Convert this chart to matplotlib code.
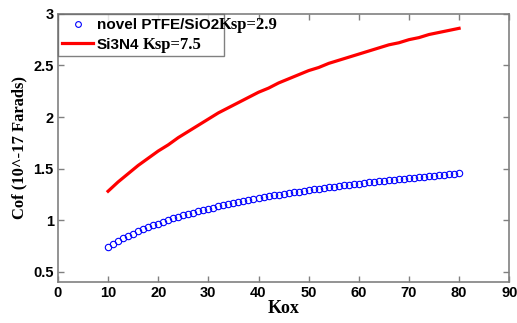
import matplotlib
matplotlib.use("Agg")
import matplotlib.pyplot as plt

# Kox values (blue markers every 1, red line every 2)
kox_ptfe = list(range(10, 81))
cof_ptfe = [0.740, 0.770, 0.797, 0.823, 0.847, 0.870, 0.891, 0.911, 0.930, 0.949,
            0.967, 0.984, 1.000, 1.016, 1.031, 1.045, 1.059, 1.072, 1.085, 1.097,
            1.110, 1.122, 1.133, 1.144, 1.155, 1.165, 1.175, 1.185, 1.195, 1.204,
            1.213, 1.222, 1.231, 1.239, 1.247, 1.255, 1.263, 1.270, 1.277, 1.284,
            1.291, 1.298, 1.305, 1.311, 1.318, 1.324, 1.330, 1.336, 1.342, 1.348,
            1.354, 1.360, 1.365, 1.371, 1.376, 1.382, 1.387, 1.392, 1.397, 1.402,
            1.407, 1.412, 1.417, 1.422, 1.427, 1.432, 1.437, 1.442, 1.447, 1.452,
            1.460]

kox_si3n4 = list(range(10, 81, 2))
cof_si3n4 = [1.28, 1.37, 1.45, 1.53, 1.60, 1.67, 1.73, 1.80, 1.86, 1.92,
             1.98, 2.04, 2.09, 2.14, 2.19, 2.24, 2.28, 2.33, 2.37, 2.41,
             2.45, 2.48, 2.52, 2.55, 2.58, 2.61, 2.64, 2.67, 2.70, 2.72,
             2.75, 2.77, 2.80, 2.82, 2.84, 2.86]

xticks = list(range(0, 91, 10))
yticks = [0.5, 1, 1.5, 2, 2.5, 3]
ytick_labels = ['0.5', '1', '1.5', '2', '2.5', '3']

fig = plt.figure(figsize=(5.17, 3.23), dpi=100)
ax = fig.add_axes([0.112, 0.127, 0.873, 0.830])

ax.plot(kox_ptfe, cof_ptfe, 'o', mfc='none', mec='blue', ms=4.6, mew=0.8,
        label='novel PTFE/SiO2')
ax.plot(kox_si3n4, cof_si3n4, '-', color='red', lw=2.3, label='Si3N4')

ax.set_xlim(0, 90)
ax.set_ylim(0.4, 3)
ax.set_xticks(xticks)
ax.set_yticks(yticks)
ax.set_yticklabels(ytick_labels)

for s in ax.spines.values():
    s.set_color('#808080')
    s.set_linewidth(1.2)
ax.tick_params(direction='in', length=4, width=1, color='#808080',
               top=True, right=True, labelsize=10.5, pad=3)
for lab in ax.get_xticklabels() + ax.get_yticklabels():
    lab.set_fontweight('bold')
    lab.set_family('Liberation Sans')

ax.set_xlabel('Kox', family='Liberation Serif', fontweight='bold', fontsize=13, labelpad=0)
ax.set_ylabel('Cof (10^-17 Farads)', family='Liberation Serif', fontweight='bold',
              fontsize=12, labelpad=4)

# legend with mixed fonts: sans part from legend, serif "Ksp" part overlaid
leg = ax.legend(loc='upper left', borderaxespad=0, frameon=True, fancybox=False,
                prop={'family': 'Liberation Sans', 'weight': 'bold', 'size': 11},
                handlelength=2.0, handletextpad=0.25, borderpad=0.3, labelspacing=0.35,
                markerscale=0.9)
leg.get_frame().set_edgecolor('#606060')
leg.get_frame().set_linewidth(1.0)
fig.canvas.draw()
r = fig.canvas.get_renderer()
ksp = ['Ksp=2.9', 'Ksp=7.5']
gaps = [0, 3]
inv = ax.transAxes.inverted()
right_edge = 0
for t, k, g in zip(leg.get_texts(), ksp, gaps):
    bb = t.get_window_extent(r)
    x0, y0 = inv.transform((bb.x1 + g, (bb.y0 + bb.y1) / 2))
    tk = ax.text(x0, y0, k, transform=ax.transAxes, family='Liberation Serif',
                 fontweight='bold', fontsize=12, va='center', ha='left', zorder=10)
    right_edge = max(right_edge, tk.get_window_extent(r).x1)
# widen legend frame to cover the overlaid text
fbb = leg.get_frame().get_window_extent(r)
leg.get_frame().set_width(leg.get_frame().get_width() + (right_edge + 3 - fbb.x1))

fig.savefig('out.png', dpi=100)
